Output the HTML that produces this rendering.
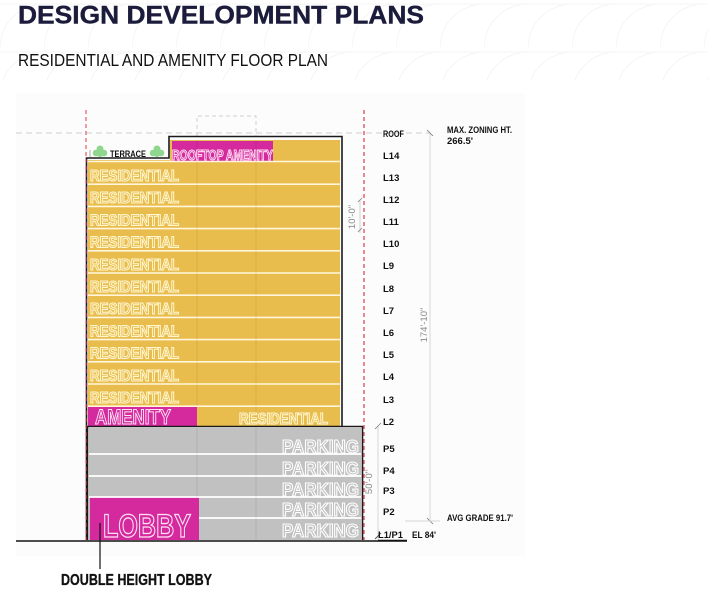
<!DOCTYPE html>
<html><head><meta charset="utf-8">
<style>
html,body{margin:0;padding:0;background:#fff;}
svg{display:block;}
.lbl{font-family:"Liberation Sans Narrow","Liberation Sans",sans-serif;font-weight:bold;fill:#111;}
.out{font-family:"Liberation Sans Narrow","Liberation Sans",sans-serif;font-weight:bold;}
.dim{font-family:"Liberation Sans",sans-serif;fill:#8a8a8a;}
</style></head>
<body>
<svg width="708" height="591" viewBox="0 0 708 591" xmlns="http://www.w3.org/2000/svg">
<defs>
<pattern id="arcs" width="44" height="48" patternUnits="userSpaceOnUse">
<path d="M0 48 A44 44 0 0 1 44 4" fill="none" stroke="#f5f5f5" stroke-width="1"/>
<path d="M0 4 L44 4" stroke="#f6f6f6" stroke-width="1"/>
</pattern>
</defs>
<rect x="0" y="0" width="708" height="591" fill="#fff"/>
<rect x="0" y="0" width="708" height="80" fill="url(#arcs)"/>
<rect x="16" y="93" width="509" height="463" fill="#fcfcfc"/>

<!-- header -->
<text x="18" y="23.5" font-family="Liberation Sans, sans-serif" font-weight="bold" font-size="25" fill="#1b1c3b" stroke="#1b1c3b" stroke-width="0.4" textLength="406" lengthAdjust="spacingAndGlyphs">DESIGN DEVELOPMENT PLANS</text>
<text x="18" y="66" font-family="Liberation Sans Narrow, Liberation Sans, sans-serif" font-size="17.5" fill="#111" textLength="310" lengthAdjust="spacingAndGlyphs">RESIDENTIAL AND AMENITY FLOOR PLAN</text>

<!-- dashed zoning line -->
<line x1="16" y1="133" x2="430" y2="133" stroke="#cfcfcf" stroke-width="1" stroke-dasharray="6 4"/>
<!-- dashed roof box -->
<path d="M197 136 V116 H256 V136" fill="none" stroke="#cfcfcf" stroke-width="1" stroke-dasharray="4 3"/>

<!-- yellow residential block -->
<rect x="88" y="160" width="252" height="266" fill="#e9bd4d"/>
<rect x="170" y="140" width="170" height="21" fill="#e9bd4d"/>
<rect x="172" y="141" width="101" height="20" fill="#d42a9e"/>
<!-- row separators -->
<g stroke="#fff6dc" stroke-width="1.6">
<line x1="88" y1="161.5" x2="340" y2="161.5"/>
<line x1="88" y1="184.2" x2="340" y2="184.2"/>
<line x1="88" y1="206.4" x2="340" y2="206.4"/>
<line x1="88" y1="228.6" x2="340" y2="228.6"/>
<line x1="88" y1="250.8" x2="340" y2="250.8"/>
<line x1="88" y1="273" x2="340" y2="273"/>
<line x1="88" y1="295.2" x2="340" y2="295.2"/>
<line x1="88" y1="317.4" x2="340" y2="317.4"/>
<line x1="88" y1="339.6" x2="340" y2="339.6"/>
<line x1="88" y1="361.8" x2="340" y2="361.8"/>
<line x1="88" y1="384" x2="340" y2="384"/>
<line x1="88" y1="406.2" x2="340" y2="406.2"/>
</g>
<rect x="88" y="407" width="109" height="19" fill="#d42a9e"/>

<!-- parking block -->
<rect x="89" y="428" width="272" height="112" fill="#c1c1c1"/>
<rect x="90" y="497" width="109" height="43" fill="#d42a9e"/>
<g stroke="#ffffff" stroke-width="1.8">
<line x1="89" y1="454" x2="361" y2="454"/>
<line x1="89" y1="476" x2="361" y2="476"/>
<line x1="89" y1="497" x2="361" y2="497"/>
<line x1="199" y1="518" x2="361" y2="518"/>
</g>

<!-- faint interior verticals -->
<g stroke="#000" stroke-opacity="0.08" stroke-width="1">
<line x1="197" y1="140" x2="197" y2="406"/>
<line x1="256" y1="140" x2="256" y2="426"/>
<line x1="197" y1="428" x2="197" y2="497"/>
<line x1="256" y1="428" x2="256" y2="540"/>
</g>

<!-- outlines -->
<path d="M86.5 540 V158 H169 V136.5 H342 V426" fill="none" stroke="#1a1a1a" stroke-width="1.6"/>
<path d="M87.5 540 V426.5 H362.5 V540" fill="none" stroke="#1a1a1a" stroke-width="1.6"/>

<!-- red property lines -->
<line x1="86" y1="110" x2="86" y2="540" stroke="#e23a4a" stroke-width="1" stroke-dasharray="4 3"/>
<line x1="364" y1="110" x2="364" y2="540" stroke="#e23a4a" stroke-width="1.2" stroke-dasharray="4 3"/>

<!-- ground line -->
<line x1="16" y1="541" x2="407" y2="541" stroke="#111" stroke-width="1.6"/>

<!-- terrace -->
<g fill="#8fd78f">
<circle cx="96" cy="153" r="3.3"/><circle cx="100" cy="149" r="3.5"/><circle cx="104" cy="153" r="3.3"/><circle cx="100" cy="154" r="3"/>
<circle cx="153" cy="153" r="3.3"/><circle cx="157" cy="149" r="3.5"/><circle cx="161" cy="153" r="3.3"/><circle cx="157" cy="154" r="3"/>
</g>
<line x1="90" y1="157" x2="90" y2="150" stroke="#999" stroke-width="0.8"/>
<text x="110" y="157" class="lbl" font-size="9" textLength="36" lengthAdjust="spacingAndGlyphs">TERRACE</text>

<!-- outlined labels -->
<g class="out" fill="#e9bd4d" stroke="#fff7d2" stroke-width="1.1" font-size="16">
<text x="90" y="181" textLength="89" lengthAdjust="spacingAndGlyphs">RESIDENTIAL</text>
<text x="90" y="203.2" textLength="89" lengthAdjust="spacingAndGlyphs">RESIDENTIAL</text>
<text x="90" y="225.4" textLength="89" lengthAdjust="spacingAndGlyphs">RESIDENTIAL</text>
<text x="90" y="247.6" textLength="89" lengthAdjust="spacingAndGlyphs">RESIDENTIAL</text>
<text x="90" y="269.8" textLength="89" lengthAdjust="spacingAndGlyphs">RESIDENTIAL</text>
<text x="90" y="292" textLength="89" lengthAdjust="spacingAndGlyphs">RESIDENTIAL</text>
<text x="90" y="314.2" textLength="89" lengthAdjust="spacingAndGlyphs">RESIDENTIAL</text>
<text x="90" y="336.4" textLength="89" lengthAdjust="spacingAndGlyphs">RESIDENTIAL</text>
<text x="90" y="358.6" textLength="89" lengthAdjust="spacingAndGlyphs">RESIDENTIAL</text>
<text x="90" y="380.8" textLength="89" lengthAdjust="spacingAndGlyphs">RESIDENTIAL</text>
<text x="90" y="403" textLength="89" lengthAdjust="spacingAndGlyphs">RESIDENTIAL</text>
<text x="239" y="424" textLength="89" lengthAdjust="spacingAndGlyphs">RESIDENTIAL</text>
</g>
<g class="out" fill="#d42a9e" stroke="#ffe0f4" stroke-width="1.1">
<text x="172" y="160" font-size="15" textLength="101" lengthAdjust="spacingAndGlyphs">ROOFTOP AMENITY</text>
<text x="95" y="424" font-size="21" textLength="76" lengthAdjust="spacingAndGlyphs">AMENITY</text>
<text x="103" y="537" font-size="32" stroke-width="1.3" textLength="88" lengthAdjust="spacingAndGlyphs">LOBBY</text>
</g>
<g class="out" fill="#c1c1c1" stroke="#ffffff" stroke-width="1.1" font-size="18">
<text x="282" y="453" textLength="77" lengthAdjust="spacingAndGlyphs">PARKING</text>
<text x="282" y="475" textLength="77" lengthAdjust="spacingAndGlyphs">PARKING</text>
<text x="282" y="496" textLength="77" lengthAdjust="spacingAndGlyphs">PARKING</text>
<text x="282" y="516" textLength="77" lengthAdjust="spacingAndGlyphs">PARKING</text>
<text x="282" y="537" textLength="77" lengthAdjust="spacingAndGlyphs">PARKING</text>
</g>

<!-- dimensions -->
<line x1="430" y1="133" x2="430" y2="521" stroke="#d6d6d6" stroke-width="1"/>
<line x1="427" y1="130" x2="433" y2="136" stroke="#777" stroke-width="0.8"/>
<line x1="427" y1="518" x2="433" y2="524" stroke="#777" stroke-width="0.8"/>
<line x1="405" y1="521" x2="440" y2="521" stroke="#d6d6d6" stroke-width="1"/>
<text class="dim" font-size="9.5" transform="translate(427,325) rotate(-90)" text-anchor="middle">174'-10"</text>
<line x1="360" y1="200" x2="360" y2="233" stroke="#d0d0d0" stroke-width="1"/>
<line x1="358" y1="202" x2="362" y2="198" stroke="#777" stroke-width="0.7"/>
<line x1="358" y1="232" x2="362" y2="228" stroke="#777" stroke-width="0.7"/>
<text class="dim" font-size="9.5" transform="translate(355,217) rotate(-90)" text-anchor="middle">10'-0"</text>
<line x1="378" y1="426" x2="378" y2="540" stroke="#d6d6d6" stroke-width="1"/>
<line x1="375" y1="429" x2="381" y2="423" stroke="#777" stroke-width="0.7"/>
<line x1="375" y1="539" x2="381" y2="533" stroke="#555" stroke-width="0.9"/>
<text class="dim" font-size="9.5" transform="translate(372,482) rotate(-90)" text-anchor="middle">50'-0"</text>

<!-- floor labels -->
<g class="lbl" font-size="9.5">
<text x="383" y="137" textLength="21" lengthAdjust="spacingAndGlyphs">ROOF</text>
<text x="383" y="159">L14</text>
<text x="383" y="181">L13</text>
<text x="383" y="203">L12</text>
<text x="383" y="225">L11</text>
<text x="383" y="247">L10</text>
<text x="383" y="269">L9</text>
<text x="383" y="292">L8</text>
<text x="383" y="314">L7</text>
<text x="383" y="336">L6</text>
<text x="383" y="358">L5</text>
<text x="383" y="380">L4</text>
<text x="383" y="403">L3</text>
<text x="383" y="425">L2</text>
<text x="383" y="452">P5</text>
<text x="383" y="474">P4</text>
<text x="383" y="494">P3</text>
<text x="383" y="515">P2</text>
<text x="378" y="538" textLength="25" lengthAdjust="spacingAndGlyphs">L1/P1</text>
<text x="412" y="538" textLength="24" lengthAdjust="spacingAndGlyphs">EL 84'</text>
<text x="447" y="133" textLength="65" lengthAdjust="spacingAndGlyphs">MAX. ZONING HT.</text>
<text x="447" y="144" textLength="26" lengthAdjust="spacingAndGlyphs">266.5'</text>
<text x="447" y="521" textLength="66" lengthAdjust="spacingAndGlyphs">AVG GRADE 91.7'</text>
</g>
<line x1="378" y1="540.5" x2="407" y2="540.5" stroke="#111" stroke-width="1.4"/>

<!-- double height lobby callout -->
<line x1="100" y1="523" x2="100" y2="569" stroke="#111" stroke-width="1.2"/>
<text x="61" y="585" class="lbl" font-size="15.5" stroke="#111" stroke-width="0.3" textLength="151" lengthAdjust="spacingAndGlyphs">DOUBLE HEIGHT LOBBY</text>
</svg>
</body></html>
